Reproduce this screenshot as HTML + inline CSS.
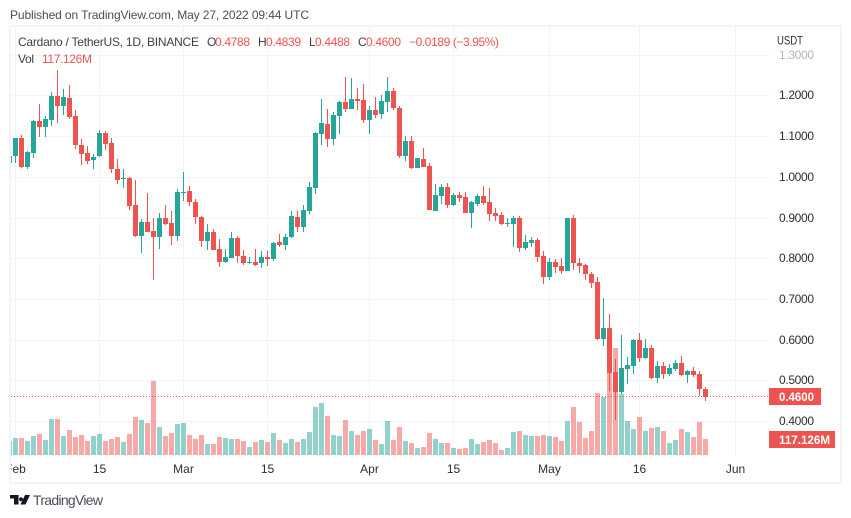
<!DOCTYPE html>
<html>
<head>
<meta charset="utf-8">
<title>Cardano / TetherUS chart</title>
<style>
html,body{margin:0;padding:0;background:#fff;width:851px;height:518px;overflow:hidden}
svg{display:block;font-family:"Liberation Sans",sans-serif}
</style>
</head>
<body>
<svg id="chart" width="851" height="518" viewBox="0 0 851 518" xmlns="http://www.w3.org/2000/svg">
  <defs>
    <clipPath id="pane"><rect x="11" y="27" width="758" height="455"/></clipPath>
    <clipPath id="axisclip"><rect x="11" y="456" width="758" height="26"/></clipPath>
  </defs>
  <rect x="10" y="26" width="831" height="457" fill="#fff" stroke="#f0f3fa" stroke-width="2"/>
  <g id="grid"></g>
  <g id="volumes" clip-path="url(#pane)"></g>
  <g id="candles" clip-path="url(#pane)"></g>
  <g id="lastline"></g>
  <g id="priceaxis"></g>
  <g id="timeaxis" clip-path="url(#axisclip)"></g>

  <text x="10" y="19" font-size="12" fill="#4a4e5a" textLength="299">Published on TradingView.com, May 27, 2022 09:44 UTC</text>

  <g font-size="12">
    <text x="18" y="46" fill="#3a3f4b" textLength="181">Cardano / TetherUS, 1D, BINANCE</text>
    <text x="207" y="46" fill="#3a3f4b">O</text>
    <text x="215" y="46" fill="#ef5350" textLength="35">0.4788</text>
    <text x="258" y="46" fill="#3a3f4b">H</text>
    <text x="266" y="46" fill="#ef5350" textLength="35">0.4839</text>
    <text x="309" y="46" fill="#3a3f4b">L</text>
    <text x="315" y="46" fill="#ef5350" textLength="35">0.4488</text>
    <text x="358" y="46" fill="#3a3f4b">C</text>
    <text x="366" y="46" fill="#ef5350" textLength="35">0.4600</text>
    <text x="409" y="46" fill="#ef5350" textLength="90">−0.0189 (−3.95%)</text>
    <text x="18" y="63" fill="#3a3f4b" textLength="16">Vol</text>
    <text x="42" y="63" fill="#ef5350" textLength="50">117.126M</text>
  </g>

  <text x="777" y="44.5" font-size="12" fill="#2a2e39" textLength="26" lengthAdjust="spacingAndGlyphs">USDT</text>

  <g>
    <rect x="769" y="388" width="52" height="17" fill="#ef5350"/>
    <text x="779" y="401" font-size="12" font-weight="bold" fill="#fff" textLength="35" lengthAdjust="spacingAndGlyphs">0.4600</text>
  </g>
  <g>
    <rect x="769" y="431" width="66" height="17" fill="#ef5350"/>
    <text x="779" y="444" font-size="12" font-weight="bold" fill="#fff" textLength="51" lengthAdjust="spacingAndGlyphs">117.126M</text>
  </g>

  <g>
    <path d="M10 495H18.5V504.5H14V498.5H10Z M21 497.2a2 2 0 1 0 .01 0Z M25 495H30L25.5 504.5H20.5Z" fill="#131722"/>
    <text x="33" y="505" font-size="14" fill="#4a4e5a" textLength="70">TradingView</text>
  </g>
</svg>
<script>
// Daily candles; first entry is 2022-01-31, last is 2022-05-27.
const firstDate = '2022-01-31';
const opens = [1.035,
1.050,1.095,1.025,1.059,1.137,1.123,1.140,1.199,1.175,1.194,
1.149,1.078,1.059,1.042,1.050,1.108,1.083,1.019,.995,.997,
.931,.855,.889,.867,.851,.899,.887,.855,.960,.965,
.938,.901,.843,.864,.823,.791,.801,.850,.805,.787,
.791,.787,.803,.799,.840,.833,.851,.901,.877,.917,
.973,1.106,1.130,1.094,1.150,1.184,1.167,1.191,1.189,1.140,
1.164,1.155,1.185,1.211,1.169,1.050,1.088,1.022,1.044,1.027,
.917,.953,.975,.931,.955,.950,.912,.934,.953,.938,
.911,.906,.885,.885,.899,.826,.837,.845,.805,.755,
.791,.781,.769,.899,.788,.783,.761,.741,.602,.628,
.520,.471,.528,.535,.599,.556,.579,.506,.535,.516,
.528,.543,.514,.523,.516,.4788];
const highs = [1.051,
1.095,1.103,1.063,1.140,1.179,1.149,1.208,1.262,1.216,1.226,
1.164,1.093,1.076,1.056,1.115,1.113,1.095,1.044,1.019,.999,
.992,.896,.960,.899,.911,.931,.916,.970,1.012,.977,
.946,.904,.884,.872,.847,.823,.864,.855,.820,.803,
.823,.818,.818,.840,.860,.860,.916,.916,.931,.987,
1.110,1.191,1.167,1.159,1.186,1.245,1.243,1.218,1.228,1.174,
1.196,1.201,1.245,1.218,1.174,1.100,1.100,1.047,1.071,1.034,
.982,.982,.985,.960,.963,.963,.941,.958,.977,.972,
.923,.913,.899,.904,.904,.857,.852,.850,.818,.800,
.798,.800,.900,.906,.800,.786,.766,.754,.702,.663,
.552,.611,.557,.601,.616,.601,.587,.547,.545,.540,
.550,.560,.525,.533,.523,.4839];
const lows = [1.035,
1.035,1.022,1.018,1.047,1.099,1.099,1.126,1.133,1.153,1.143,
1.069,1.030,1.032,1.020,1.048,1.067,1.010,.983,.973,.919,
.853,.814,.864,.747,.823,.882,.833,.843,.941,.929,
.885,.828,.819,.820,.779,.789,.800,.787,.784,.786,
.782,.777,.782,.794,.828,.821,.850,.865,.865,.909,
.958,1.077,1.074,1.079,1.106,1.158,1.166,1.163,1.133,1.106,
1.145,1.143,1.160,1.165,1.047,1.040,1.020,1.021,1.024,.918,
.916,.933,.924,.929,.938,.911,.874,.929,.931,.891,
.891,.882,.877,.827,.816,.821,.827,.791,.737,.747,
.764,.762,.768,.772,.764,.747,.728,.600,.584,.474,
.402,.466,.492,.516,.546,.553,.504,.494,.504,.511,
.524,.511,.494,.509,.462,.4488];
const closes = [1.051,
1.095,1.025,1.061,1.137,1.123,1.142,1.199,1.175,1.196,1.148,
1.077,1.057,1.040,1.049,1.108,1.081,1.018,.993,.997,.929,
.855,.889,.865,.853,.899,.885,.855,.963,.963,.939,
.902,.843,.864,.821,.791,.803,.850,.806,.787,.791,
.784,.803,.799,.837,.832,.852,.904,.877,.918,.975,
1.108,1.132,1.094,1.152,1.184,1.167,1.191,1.187,1.140,1.164,
1.153,1.186,1.211,1.170,1.050,1.088,1.022,1.046,1.025,.919,
.955,.975,.931,.955,.948,.912,.938,.953,.936,.909,
.904,.885,.886,.899,.826,.840,.845,.804,.755,.791,
.779,.769,.899,.787,.782,.760,.740,.602,.628,.519,
.471,.530,.538,.599,.556,.579,.506,.535,.516,.530,
.543,.514,.523,.512,.479,.4600];
const volumes = [102,
124,124,102,139,154,110,264,264,139,183,
132,146,102,139,154,102,117,132,95,154,
278,256,234,542,205,139,161,227,234,146,
117,146,81,81,132,124,117,117,102,59,
95,110,95,161,110,88,117,95,117,168,
351,381,285,146,139,256,176,146,176,190,
110,81,249,110,205,102,88,51,59,161,
117,88,88,51,44,51,117,81,95,110,
88,37,51,168,176,146,139,139,146,139,
132,102,249,351,242,124,176,454,425,659,
783,447,249,190,278,176,198,205,176,88,
110,190,168,132,242,117.126];
const priceTickValues = [0.4,0.5,0.6,0.7,0.8,0.9,1.0,1.1,1.2,1.3];
const timeTickLabels = ['Feb','15','Mar','15','Apr','15','May','16','Jun'];
const timeTickDates = ['2022-02-01','2022-02-15','2022-03-01','2022-03-15','2022-04-01','2022-04-15','2022-05-01','2022-05-16','2022-06-01'];
const lastPrice = 0.46;

const NS = 'http://www.w3.org/2000/svg';
const DAY_MS = 86400000;
const startMs = Date.parse(firstDate);
// Axis functions
function xOfIndex(i){ return 9.3 + 6 * i; }
function xOfDate(d){ return xOfIndex((Date.parse(d) - startMs) / DAY_MS); }
function yOfPrice(p){ return 421 - (p - 0.4) * 407; }
function yOfVolume(v){ return 455 - v / 7.32; }
function make(tag, attrs, parent){
  const el = document.createElementNS(NS, tag);
  for (const k in attrs) el.setAttribute(k, attrs[k]);
  parent.appendChild(el);
  return el;
}

const GREEN = '#26a69a', RED = '#ef5350';
const grid = document.getElementById('grid');
const priceAxis = document.getElementById('priceaxis');
const timeAxis = document.getElementById('timeaxis');
const volG = document.getElementById('volumes');
const candleG = document.getElementById('candles');
const lastG = document.getElementById('lastline');

priceTickValues.forEach(function(p){
  const y = Math.round(yOfPrice(p)) + 0.5;
  const line = make('line', {x1:11, x2:769, y1:y, y2:y, stroke:'#f0f3fa', 'stroke-width':1}, grid);
  
  
  const t = make('text', {x:779, y:y + 3.5, 'font-size':12, fill: p === 1.3 ? '#b4b6bc' : '#2a2e39', textLength:35}, priceAxis);
  
  
  t.textContent = p.toFixed(4);
});

timeTickDates.forEach(function(d, k){
  const x = Math.floor(xOfDate(d)) + 0.5;
  const line = make('line', {x1:x, x2:x, y1:27, y2:456, stroke:'#f0f3fa', 'stroke-width':1}, grid);
  
  
  const t = make('text', {x:x, y:473, 'font-size':12, fill:'#2a2e39', 'text-anchor':'middle'}, timeAxis);
  
  
  t.textContent = timeTickLabels[k];
});

opens.forEach(function(o, i){
  const h = highs[i], l = lows[i], c = closes[i];
  const up = c >= o;
  const color = up ? GREEN : RED;
  const left = Math.floor(xOfIndex(i));

  const vTop = Math.round(yOfVolume(volumes[i]));
  const bar = make('rect', {x:left - 2, y:vTop, width:5, height:455 - vTop, fill:color, 'fill-opacity':0.5}, volG);
  
  

  const wTop = Math.round(yOfPrice(h)), wBot = Math.round(yOfPrice(l));
  const wick = make('rect', {x:left, y:wTop, width:1, height:Math.max(1, wBot - wTop), fill:color}, candleG);
  
  

  const bTop = Math.round(yOfPrice(Math.max(o, c))), bBot = Math.round(yOfPrice(Math.min(o, c)));
  const body = make('rect', {x:left - 2, y:bTop, width:5, height:Math.max(1, bBot - bTop), fill:color}, candleG);
  
  
});

const lastY = Math.floor(yOfPrice(lastPrice)) + 0.5;
const lastLine = make('line', {x1:11, x2:769, y1:lastY, y2:lastY, stroke:RED, 'stroke-width':1, 'stroke-dasharray':'1 2'}, lastG);


</script>
</body>
</html>
